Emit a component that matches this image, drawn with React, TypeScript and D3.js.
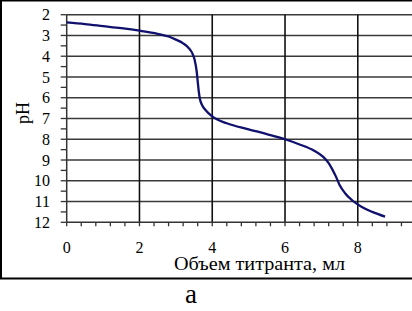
import React from 'react';
import * as d3 from 'd3';

// titration curve
const volume = [0, 0.5, 1, 1.5, 2, 2.5, 2.8, 3.0, 3.2, 3.35, 3.45, 3.52, 3.57, 3.6, 3.63, 3.66, 3.72, 3.82, 4.0, 4.4, 5.0, 5.5, 6.0, 6.4, 6.8, 7.05, 7.2, 7.3, 7.4, 7.5, 7.65, 7.85, 8.1, 8.4, 8.75];
const pH = [2.37, 2.45, 2.55, 2.65, 2.77, 2.92, 3.05, 3.2, 3.38, 3.6, 3.85, 4.2, 4.7, 5.2, 5.7, 6.05, 6.35, 6.6, 6.9, 7.23, 7.52, 7.75, 8.0, 8.25, 8.55, 8.85, 9.15, 9.45, 9.8, 10.2, 10.6, 10.95, 11.25, 11.5, 11.73];

const xTicks = [0, 2, 4, 6, 8];
const yTicks = [2, 3, 4, 5, 6, 7, 8, 9, 10, 11, 12];
const xTitle = 'Объем титранта, мл';
const yTitle = 'pH';
const caption = 'а';

const W = 412;
const H = 311;
const font = '"Liberation Serif", "Times New Roman", serif';

const App: React.FC = () => {
  const x = d3.scaleLinear().domain([0, 9.6]).range([66.7, 416]);
  const y = d3.scaleLinear().domain([2, 12]).range([14.7, 222.3]);

  const pts = volume.map((v, i) => [v, pH[i]] as [number, number]);
  const line = d3
    .line<[number, number]>()
    .x((d) => x(d[0]))
    .y((d) => y(d[1]))
    .curve(d3.curveMonotoneX);

  const xMinor = d3.range(0, 9.6, 0.4);
  const yMinor = d3.range(2, 12.01, 0.5);

  return (
    <svg width={W} height={H} style={{ position: 'absolute', left: 0, top: 0, background: '#fff' }}>
      <rect x={1} y={0.5} width={W + 10} height={278} fill="#fff" stroke="#000" strokeWidth={2} />

      {/* horizontal grid */}
      {yTicks.slice(0, -1).map((t) => (
        <line key={'h' + t} x1={x(0)} x2={W} y1={y(t)} y2={y(t)} stroke="#3a3a3a" strokeWidth={1.6} />
      ))}
      {/* vertical grid */}
      {xTicks.slice(1).map((t) => (
        <line key={'v' + t} x1={x(t)} x2={x(t)} y1={y(2)} y2={y(12)} stroke="#111" strokeWidth={1.6} />
      ))}

      {/* axes */}
      <line x1={x(0)} x2={x(0)} y1={y(2)} y2={y(12)} stroke="#333" strokeWidth={1.5} />
      <line x1={x(0)} x2={W} y1={y(12)} y2={y(12)} stroke="#333" strokeWidth={1.5} />
      {yMinor.map((t) => (
        <line key={'yt' + t} x1={x(0) - 6} x2={x(0)} y1={y(t)} y2={y(t)} stroke="#333" strokeWidth={1.3} />
      ))}
      {xMinor.map((t) => (
        <line key={'xt' + t} x1={x(t)} x2={x(t)} y1={y(12)} y2={y(12) + 4} stroke="#333" strokeWidth={1.3} />
      ))}

      {yTicks.map((t) => (
        <text key={'yl' + t} x={50} y={y(t)} dy="0.35em" textAnchor="end" fontFamily={font} fontSize={16} fill="#000">
          {t}
        </text>
      ))}
      {xTicks.map((t) => (
        <text key={'xl' + t} x={x(t)} y={247} dy="0.35em" textAnchor="middle" fontFamily={font} fontSize={16} fill="#000">
          {t}
        </text>
      ))}

      <text transform="translate(29,113) rotate(-90)" textAnchor="middle" fontFamily={font} fontSize={18} fill="#000">
        {yTitle}
      </text>
      <text x={174} y={270} textLength={171} lengthAdjust="spacingAndGlyphs" fontFamily={font} fontSize={18} fill="#000">
        {xTitle}
      </text>

      <path d={line(pts) ?? ''} fill="none" stroke="#10106e" strokeWidth={2.3} />

      <text x={191} y={303} textAnchor="middle" fontFamily={font} fontSize={27} fill="#000">
        {caption}
      </text>
    </svg>
  );
};

export default App;
